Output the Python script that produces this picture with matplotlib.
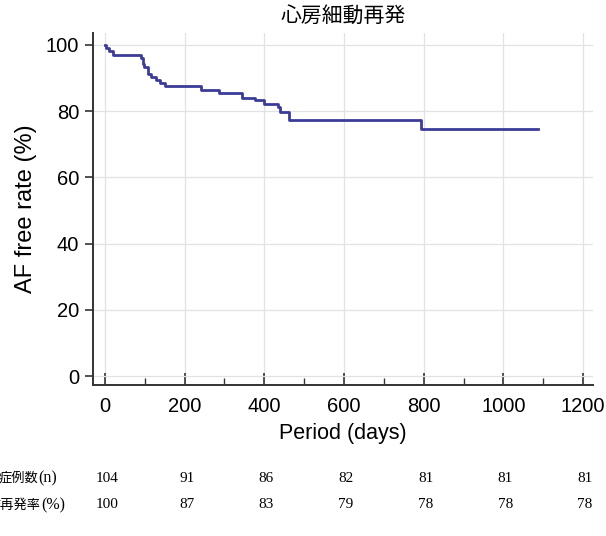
import matplotlib
matplotlib.use("Agg")
import matplotlib.pyplot as plt
import matplotlib.transforms as mtransforms

plt.rcParams["font.family"] = ["Liberation Sans", "Noto Sans CJK JP", "DejaVu Sans"]

# Kaplan-Meier step curve (days, % free of AF)
days = [0, 3, 11, 21, 90, 96, 99, 108, 115, 128, 137, 150, 241, 286, 345, 377,
        398, 434, 440, 463, 793, 1087]
free_rate = [100, 99.0, 98.1, 97.1, 96.2, 94.2, 93.3, 91.3, 90.4, 89.4, 88.5,
             87.5, 86.5, 85.4, 84.1, 83.4, 82.2, 81.2, 79.7, 77.3, 74.5, 74.5]

# table under the chart
table_days = [0, 200, 400, 600, 800, 1000, 1200]
n_cases = [104, 91, 86, 82, 81, 81, 81]
non_recur = [100, 87, 83, 79, 78, 78, 78]
row_labels = [("症例数", "(n)"), ("非再発率", "(%)")]

fig = plt.figure(figsize=(6.06, 5.36), dpi=100)
ax = fig.add_axes([93 / 606, 1 - 385 / 536, 500 / 606, 352 / 536])

ax.plot(days, free_rate, drawstyle="steps-post", color="#3c3c98", lw=2.0)

ax.set_xlim(-30, 1225)
ax.set_ylim(-2.7, 103.6)
ax.set_xticks(range(0, 1201, 200))
ax.set_xticks(range(100, 1201, 200), minor=True)
ax.set_yticks(range(0, 101, 20))
ax.grid(True, color="#e2e2e2", lw=0.9)
ax.set_axisbelow(True)
for s in ["top", "right"]:
    ax.spines[s].set_visible(False)
for s in ["left", "bottom"]:
    ax.spines[s].set_color("#333333")
    ax.spines[s].set_linewidth(1.4)
ax.tick_params(axis="x", which="major", direction="in", length=9, width=1.2,
               colors="#333333", labelcolor="black", labelsize=14.5, pad=9)
ax.tick_params(axis="x", which="minor", direction="in", length=5, width=1.0,
               colors="#333333")
ax.tick_params(axis="y", direction="out", length=6, width=1.2,
               colors="#333333", labelcolor="black", labelsize=14.5, pad=4)

ax.set_xlabel("Period (days)", fontsize=15.5, labelpad=5)
ax.set_ylabel("AF free rate (%)", fontsize=17, labelpad=6)
ax.set_title("心房細動再発", fontsize=15, pad=8,
             family=["Noto Sans CJK JP", "DejaVu Sans"])

trans = mtransforms.blended_transform_factory(ax.transData, fig.transFigure)
serif = ["Liberation Serif", "DejaVu Serif"]
y1, y2 = 1 - 478 / 536, 1 - 505 / 536
for x, n, r in zip(table_days, n_cases, non_recur):
    ax.text(x + 5, y1, str(n), transform=trans, ha="center", va="center",
            fontsize=11, family=serif, clip_on=False)
    ax.text(x + 5, y2, str(r), transform=trans, ha="center", va="center",
            fontsize=11, family=serif, clip_on=False)

# row labels: kanji part + bracket part, right aligned
renderer = fig.canvas.get_renderer()
for (kanji, unit), yy, right in zip(row_labels, [y1, y2], [57, 65]):
    t = fig.text(right / 606, yy, unit, ha="right", va="center",
                 fontsize=11.5, family=serif)
    w = t.get_window_extent(renderer).width
    fig.text((right - w) / 606, yy, kanji, ha="right", va="center",
             fontsize=9.5, family=["Noto Sans CJK JP"])

fig.savefig("out.png", dpi=100)
